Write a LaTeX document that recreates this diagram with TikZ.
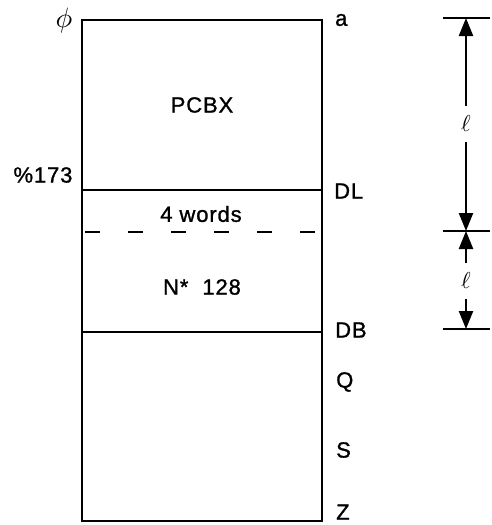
\documentclass[tikz,border=0pt]{standalone}
\usepackage{fontspec}
\setmainfont{Liberation Sans}[LetterSpace=4,FakeBold=1.2]
\usetikzlibrary{arrows.meta}
\begin{document}
\begin{tikzpicture}[x=1pt,y=-1pt,
  lab/.style={font=\fontsize{22}{26}\selectfont, inner sep=0pt},
  side/.style={lab, anchor=west},
  ellnode/.style={scale=2.3, inner sep=0pt, minimum height=15pt},
  outer/.style={line width=2.8pt},
  inner/.style={line width=2.2pt},
  dimarrow/.style={line width=2.4pt, -{Triangle[length=18pt,width=14pt]}},
  tick/.style={line width=2.4pt}]
\useasboundingbox (0,0) rectangle (491,525);
% box
\coordinate (tl) at (82,20);
\coordinate (br) at (322,521);
\draw[outer] (tl) rectangle (br);
\coordinate (dlL) at (82,190);
\coordinate (dlR) at (322,190);
\draw[inner] (dlL) -- (dlR);
\coordinate (dsL) at (82,232);
\coordinate (dsR) at (322,232);
\draw[inner, dash pattern=on 15pt off 28pt, dash phase=40pt] (dsL) -- (dsR);
\coordinate (dbL) at (82,332);
\coordinate (dbR) at (322,332);
\draw[inner] (dbL) -- (dbR);
% labels
\node[inner sep=0pt, scale=2.8] (phi) at (64,20) {$\phi$};
\node[side] (a) at (335,20) {a};
\node[lab] (pcbx) at (202,105) {PCBX};
\node[lab] (pct) at (43,175) {\%173};
\node[side] (dl) at (334,191) {DL};
\node[lab] (words) at (201,214) {4 words};
\node[lab] (nst) at (202,287) {N*\ \ 128};
\node[side] (db) at (335,330) {DB};
\node[side] (q) at (336,382) {Q};
\node[side] (s) at (336,450) {S};
\node[side] (z) at (336,512) {Z};
% dimensions
\coordinate (t1L) at (443,18);
\coordinate (t1R) at (490,18);
\coordinate (t1) at (466,18);
\coordinate (t2L) at (443,231);
\coordinate (t2R) at (490,231);
\coordinate (t2) at (466,231);
\coordinate (t3L) at (443,329);
\coordinate (t3R) at (490,329);
\coordinate (t3) at (466,329);
\draw[tick] (t1L) -- (t1R);
\draw[tick] (t2L) -- (t2R);
\draw[tick] (t3L) -- (t3R);
\node[ellnode] (l1) at (466,124) {$\ell$};
\node[ellnode] (l2) at (466,281) {$\ell$};
\draw[dimarrow] (l1.north) -- (t1);
\draw[dimarrow] (l1.south) -- (t2);
\draw[dimarrow] (l2.north) -- (t2);
\draw[dimarrow] (l2.south) -- (t3);
\end{tikzpicture}
\end{document}
